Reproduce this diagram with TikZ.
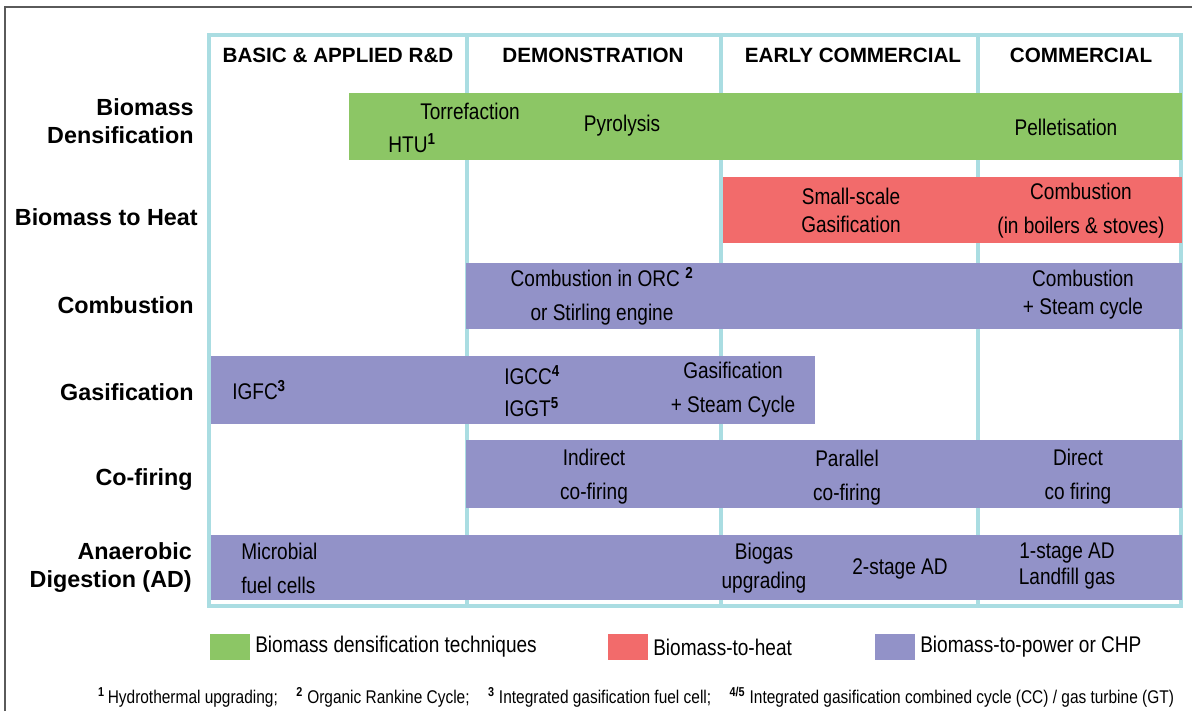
\documentclass[tikz,border=0pt]{standalone}
\usepackage{fontspec}
\setmainfont{Liberation Sans}
\newfontfamily\narrowfont[FakeStretch=0.84]{Liberation Sans}
\definecolor{densgreen}{RGB}{140,198,101}
\definecolor{heatred}{RGB}{242,107,107}
\definecolor{powerblue}{RGB}{146,146,200}
\definecolor{gridcyan}{RGB}{170,221,226}
\definecolor{framegray}{RGB}{90,90,90}
\newcommand{\fnmark}[1]{\textsuperscript{\bfseries #1}}
\tikzset{
  gridline/.style={gridcyan,line width=2.4pt},
  header/.style={font=\bfseries\fontsize{15.5}{18}\selectfont,inner sep=0pt},
  rowlabel/.style={font=\bfseries\fontsize{17.5}{21}\selectfont,anchor=east,align=right,inner sep=0pt},
  bartext/.style={font=\narrowfont\fontsize{17}{25.5}\selectfont,align=center,inner sep=0pt},
  legendtext/.style={font=\narrowfont\fontsize{17}{20}\selectfont,anchor=west,inner sep=0pt},
}
\begin{document}
\begin{tikzpicture}[x=0.75pt,y=-0.75pt]
        \useasboundingbox (0,0) rectangle (1192,711);
        %% Frame
        \draw[framegray,line width=1.5pt] (5,711) -- (5,7) -- (1192,7);
        %% Grid
        \draw[gridline] (209,35) rectangle (1181,606);
        \foreach \x in {467,721,978}
            \draw[gridline] (\x,35) -- (\x,606);
        %% Stage headers
        \node[header] (hRD) at (338,55) {BASIC \& APPLIED R\&D};
        \node[header] (hDemo) at (593,55) {DEMONSTRATION};
        \node[header] (hEarly) at (853,55) {EARLY COMMERCIAL};
        \node[header] (hComm) at (1081,55) {COMMERCIAL};
        %% Row labels
        \node[rowlabel] (rDens) at (194,121) {Biomass\\Densification};
        \node[rowlabel] (rHeat) at (198,217) {Biomass to Heat};
        \node[rowlabel] (rComb) at (194,305) {Combustion};
        \node[rowlabel] (rGas) at (194,392) {Gasification};
        \node[rowlabel] (rCof) at (193,480) {Co-firing};
        \node[rowlabel] (rAD) at (192,568) {Anaerobic\\Digestion (AD)};
        %% Bars
        \fill[densgreen] (349,93) rectangle (1182,160);
        \fill[heatred] (723,177) rectangle (1182,243);
        \fill[powerblue] (466,263) rectangle (1182,329);
        \fill[powerblue] (211,356) rectangle (815,424);
        \fill[powerblue] (466,440) rectangle (1182,508);
        \fill[powerblue] (211,535) rectangle (1182,600);
        %% Densification
        \node[bartext] (torr) at (470,111) {Torrefaction};
        \node[bartext] (htu) at (412,143) {HTU\fnmark{1}};
        \node[bartext] (pyro) at (622,126) {Pyrolysis};
        \node[bartext] (pell) at (1066,127) {Pelletisation};
        %% Heat
        \node[bartext,font=\narrowfont\fontsize{17}{21}\selectfont] (ssgas) at (851,210) {Small-scale\\Gasification};
        \node[bartext] (boil) at (1081,211) {Combustion\\(in boilers \& stoves)};
        %% Combustion
        \node[bartext] (orc) at (602,296) {Combustion in ORC \fnmark{2}\\or Stirling engine};
        \node[bartext,font=\narrowfont\fontsize{17}{21}\selectfont] (steam) at (1083,295) {Combustion\\+ Steam cycle};
        %% Gasification
        \node[bartext,anchor=west] (igfc) at (232,390) {IGFC\fnmark{3}};
        \node[bartext,align=left,anchor=west,font=\narrowfont\fontsize{17}{24}\selectfont] (igcc) at (504,391) {IGCC\fnmark{4}\\IGGT\fnmark{5}};
        \node[bartext] (gassteam) at (733,390) {Gasification\\+ Steam Cycle};
        %% Co-firing
        \node[bartext] (indir) at (594,477) {Indirect\\co-firing};
        \node[bartext] (paral) at (847,478) {Parallel\\co-firing};
        \node[bartext] (direct) at (1078,477) {Direct\\co firing};
        %% Anaerobic digestion
        \node[bartext,align=left,anchor=west] (mfc) at (241,568) {Microbial\\fuel cells};
        \node[bartext,font=\narrowfont\fontsize{17}{22}\selectfont] (biogas) at (764,568) {Biogas\\upgrading};
        \node[bartext] (twoAD) at (900,569) {2-stage AD};
        \node[bartext,font=\narrowfont\fontsize{17}{20}\selectfont] (oneAD) at (1067,566) {1-stage AD\\Landfill gas};
        %% Legend
        \fill[densgreen] (210,634) rectangle (250,660);
        \node[legendtext] (lDens) at (255,647) {Biomass densification techniques};
        \fill[heatred] (608,634) rectangle (648,660);
        \node[legendtext] (lHeat) at (653,647) {Biomass-to-heat};
        \fill[powerblue] (875,634) rectangle (915,660);
        \node[legendtext] (lPower) at (920,647) {Biomass-to-power or CHP};
        %% Footnotes
        \node[font=\narrowfont\fontsize{13.8}{16}\selectfont,inner sep=0pt] (notes) at (636,697)
            {\fnmark{1}\,Hydrothermal upgrading;\quad \fnmark{2} Organic Rankine Cycle;\quad \fnmark{3} Integrated gasification fuel cell;\quad \fnmark{4/5} Integrated gasification combined cycle (CC) / gas turbine (GT)};
    \end{tikzpicture}
\end{document}
